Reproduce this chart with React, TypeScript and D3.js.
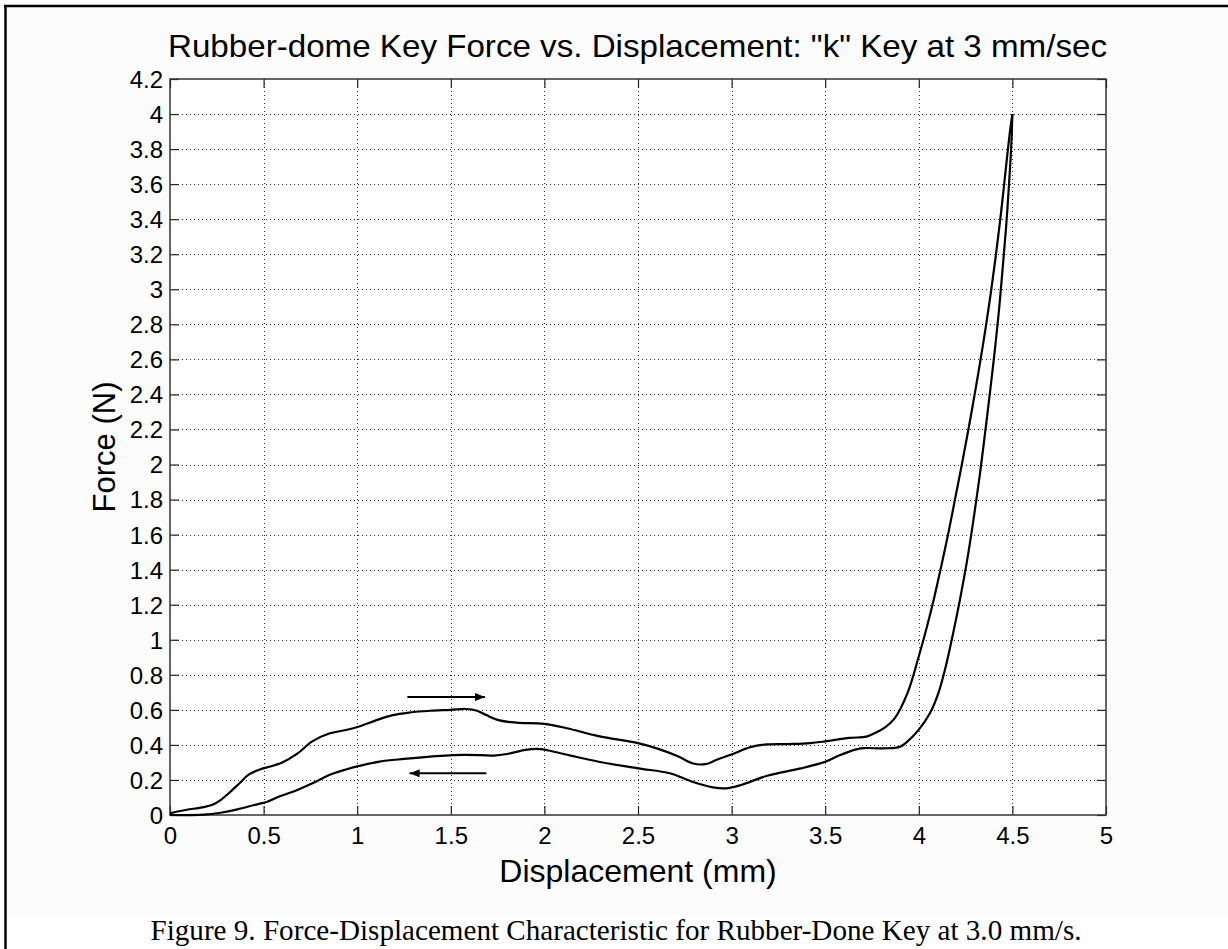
import React, { useRef, useEffect } from 'react';
import { select, scaleLinear, axisBottom, axisLeft, line, curveCatmullRom } from 'd3';

// loading curve (key pressed down), x in mm, force in N
const loadX = [0, 0.04, 0.09, 0.18, 0.23, 0.27, 0.32, 0.37, 0.42, 0.48, 0.53, 0.6, 0.68, 0.76, 0.85, 0.94, 1.01, 1.1, 1.19, 1.28, 1.39, 1.5, 1.58, 1.64, 1.69, 1.76, 1.85, 2.0, 2.12, 2.29, 2.5, 2.6, 2.71, 2.79, 2.86, 2.92, 3.01, 3.1, 3.19, 3.31, 3.42, 3.5, 3.63, 3.72, 3.77, 3.82, 3.87, 3.94, 4.0, 4.04, 4.08, 4.12, 4.16, 4.195, 4.23, 4.265, 4.3, 4.33, 4.36, 4.386, 4.41, 4.432, 4.452, 4.47, 4.487, 4.5];
const loadF = [0.01, 0.02, 0.03, 0.045, 0.06, 0.085, 0.13, 0.18, 0.23, 0.26, 0.275, 0.3, 0.35, 0.42, 0.465, 0.485, 0.505, 0.54, 0.57, 0.585, 0.595, 0.6, 0.605, 0.595, 0.57, 0.54, 0.527, 0.52, 0.495, 0.45, 0.41, 0.38, 0.337, 0.295, 0.29, 0.315, 0.35, 0.387, 0.403, 0.405, 0.41, 0.42, 0.44, 0.447, 0.47, 0.5, 0.55, 0.697, 0.906, 1.06, 1.23, 1.42, 1.62, 1.81, 2.0, 2.2, 2.41, 2.6, 2.8, 2.99, 3.18, 3.37, 3.56, 3.74, 3.9, 4.0];

// return curve (key released)
const unloadX = [0, 0.18, 0.27, 0.36, 0.45, 0.52, 0.59, 0.68, 0.77, 0.85, 0.94, 1.01, 1.12, 1.25, 1.39, 1.51, 1.66, 1.73, 1.8, 1.9, 1.98, 2.05, 2.14, 2.29, 2.5, 2.67, 2.79, 2.9, 2.97, 3.05, 3.19, 3.37, 3.5, 3.58, 3.69, 3.81, 3.9, 3.95, 4.0, 4.06, 4.105, 4.14, 4.176, 4.22, 4.256, 4.29, 4.327, 4.354, 4.38, 4.408, 4.43, 4.448, 4.466, 4.482, 4.494, 4.5];
const unloadF = [0, 0.002, 0.013, 0.032, 0.057, 0.076, 0.108, 0.143, 0.185, 0.228, 0.26, 0.28, 0.305, 0.32, 0.333, 0.342, 0.342, 0.339, 0.348, 0.372, 0.376, 0.361, 0.339, 0.304, 0.266, 0.238, 0.19, 0.158, 0.152, 0.171, 0.224, 0.266, 0.304, 0.342, 0.38, 0.38, 0.39, 0.43, 0.487, 0.582, 0.697, 0.83, 1.0, 1.23, 1.44, 1.67, 1.95, 2.18, 2.41, 2.67, 2.9, 3.12, 3.35, 3.6, 3.82, 4.0];

// direction arrows: [x start, x end, force]
const arrows = [
	[1.268, 1.683, 0.673],
	[1.69, 1.28, 0.238],
];

const xTicks = [0, 0.5, 1, 1.5, 2, 2.5, 3, 3.5, 4, 4.5, 5];
const yTicks = [0, 0.2, 0.4, 0.6, 0.8, 1, 1.2, 1.4, 1.6, 1.8, 2, 2.2, 2.4, 2.6, 2.8, 3, 3.2, 3.4, 3.6, 3.8, 4, 4.2];

const title = 'Rubber-dome Key Force vs. Displacement: "k" Key at 3 mm/sec';
const xLabel = 'Displacement (mm)';
const yLabel = 'Force (N)';
const caption = 'Figure 9. Force-Displacement Characteristic for Rubber-Done Key at 3.0 mm/s.';

function App() {
	const width = 1228;
	const height = 949;
	const left = 170;
	const right = 1106;
	const top = 79;
	const bottom = 815;
	const svgRef = useRef(null);
	const font = '"Liberation Sans", Arial, Helvetica, sans-serif';

	useEffect(() => {
		const svg = select(svgRef.current);
		svg.selectAll('*').remove();

		const x = scaleLinear().domain([0, 5]).range([left, right]);
		const y = scaleLinear().domain([0, 4.2]).range([bottom, top]);

		// page frame
		svg.append('rect').attr('x', 5).attr('y', 6).attr('width', width).attr('height', 909).attr('fill', '#fcfcfc');
		svg.append('line').attr('x1', 4).attr('x2', width).attr('y1', 6).attr('y2', 6).attr('stroke', '#000').attr('stroke-width', 2.5);
		svg.append('line').attr('x1', 5.5).attr('x2', 5.5).attr('y1', 5).attr('y2', height).attr('stroke', '#000').attr('stroke-width', 2.5);

		svg.append('rect').attr('x', left).attr('y', top).attr('width', right - left).attr('height', bottom - top).attr('fill', '#fff');

		// dotted grid
		const grid = svg.append('g').attr('stroke', '#333').attr('stroke-width', 1).attr('stroke-dasharray', '1,3');
		grid.selectAll('.gx')
			.data(xTicks.slice(1, -1))
			.join('line')
			.attr('x1', (d) => Math.round(x(d)) + 0.5)
			.attr('x2', (d) => Math.round(x(d)) + 0.5)
			.attr('y1', top)
			.attr('y2', bottom);
		grid.selectAll('.gy')
			.data(yTicks.slice(1, -1))
			.join('line')
			.attr('y1', (d) => Math.round(y(d)) + 0.5)
			.attr('y2', (d) => Math.round(y(d)) + 0.5)
			.attr('x1', left)
			.attr('x2', right);

		// axes, MATLAB style inward ticks
		const xAxis = axisBottom(x).tickValues(xTicks).tickSizeInner(-9).tickSizeOuter(0).tickPadding(12).tickFormat((d) => String(d));
		const gx = svg.append('g').attr('transform', `translate(0,${bottom})`).call(xAxis);
		const yAxis = axisLeft(y).tickValues(yTicks).tickSizeInner(-9).tickSizeOuter(0).tickPadding(7).tickFormat((d) => String(d));
		const gy = svg.append('g').attr('transform', `translate(${left},0)`).call(yAxis);

		const xTop = axisBottom(x).tickValues(xTicks).tickSizeInner(9).tickSizeOuter(0).tickFormat(() => '');
		svg.append('g').attr('transform', `translate(0,${top})`).call(xTop);
		const yRight = axisLeft(y).tickValues(yTicks).tickSizeInner(9).tickSizeOuter(0).tickFormat(() => '');
		svg.append('g').attr('transform', `translate(${right},0)`).call(yRight);

		svg.selectAll('.domain').remove();
		svg.selectAll('.tick line').attr('stroke', '#222').attr('stroke-width', 1.2);
		[gx, gy].forEach((g) => g.selectAll('text').attr('font-family', font).attr('font-size', 24).attr('fill', '#000'));
		gy.selectAll('text').attr('dy', '0.35em');

		svg.append('rect')
			.attr('x', left)
			.attr('y', top)
			.attr('width', right - left)
			.attr('height', bottom - top)
			.attr('fill', 'none')
			.attr('stroke', '#333')
			.attr('stroke-width', 1.5);

		// curves
		const path = line()
			.x((d) => x(d[0]))
			.y((d) => y(d[1]))
			.curve(curveCatmullRom.alpha(0.5));
		const loadPts = loadX.map((v, i) => [v, loadF[i]]);
		const unloadPts = unloadX.map((v, i) => [v, unloadF[i]]);
		svg.selectAll('.curve')
			.data([loadPts, unloadPts])
			.join('path')
			.attr('class', 'curve')
			.attr('d', path)
			.attr('fill', 'none')
			.attr('stroke', '#000')
			.attr('stroke-width', 2.2)
			.attr('stroke-linejoin', 'round');

		// arrows
		const defs = svg.append('defs');
		defs.append('marker')
			.attr('id', 'head')
			.attr('viewBox', '0 0 10 8')
			.attr('refX', 10)
			.attr('refY', 4)
			.attr('markerWidth', 10)
			.attr('markerHeight', 8)
			.attr('markerUnits', 'userSpaceOnUse')
			.attr('orient', 'auto')
			.append('path')
			.attr('d', 'M0,0L10,4L0,8Z')
			.attr('fill', '#000');
		svg.selectAll('.arrow')
			.data(arrows)
			.join('line')
			.attr('class', 'arrow')
			.attr('x1', (d) => x(d[0]))
			.attr('x2', (d) => x(d[1]))
			.attr('y1', (d) => y(d[2]))
			.attr('y2', (d) => y(d[2]))
			.attr('stroke', '#000')
			.attr('stroke-width', 2)
			.attr('marker-end', 'url(#head)');

		// texts
		svg.append('text')
			.attr('x', 637.5)
			.attr('y', 57)
			.attr('text-anchor', 'middle')
			.attr('font-family', font)
			.attr('font-size', 32)
			.attr('textLength', 939)
			.attr('lengthAdjust', 'spacingAndGlyphs')
			.text(title);
		svg.append('text')
			.attr('x', (left + right) / 2)
			.attr('y', 882)
			.attr('text-anchor', 'middle')
			.attr('font-family', font)
			.attr('font-size', 32)
			.text(xLabel);
		svg.append('text')
			.attr('transform', `translate(115,${(top + bottom) / 2}) rotate(-90)`)
			.attr('text-anchor', 'middle')
			.attr('font-family', font)
			.attr('font-size', 31)
			.text(yLabel);
		svg.append('text')
			.attr('x', 616)
			.attr('y', 940)
			.attr('text-anchor', 'middle')
			.attr('font-family', '"Liberation Serif", "Times New Roman", serif')
			.attr('font-size', 29)
			.attr('textLength', 931)
			.attr('lengthAdjust', 'spacingAndGlyphs')
			.text(caption);
	}, []);

	return (
		<svg
			ref={svgRef}
			width={width}
			height={height}
			style={{ position: 'absolute', left: 0, top: 0, background: '#fff', display: 'block' }}
		/>
	);
}

export default App;
